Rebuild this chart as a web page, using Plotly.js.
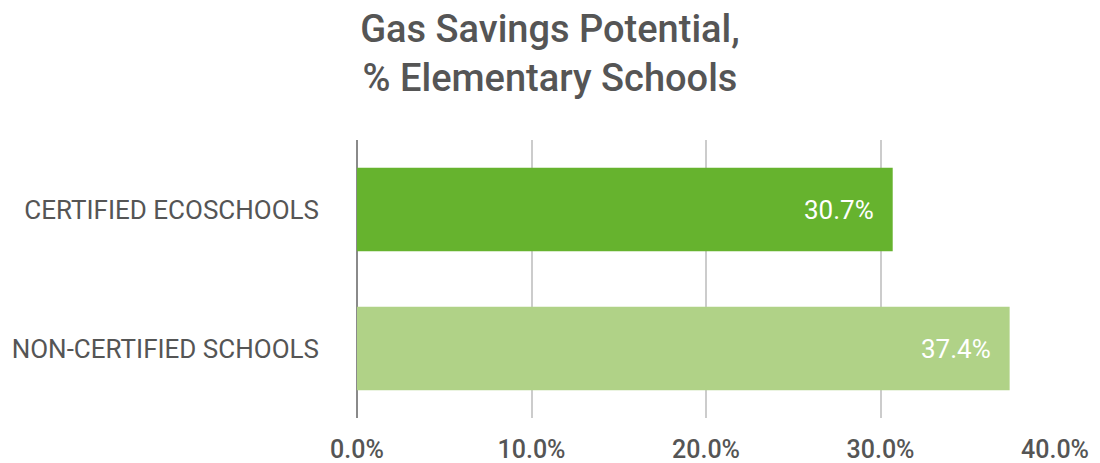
<!DOCTYPE html>
<html>
<head>
<meta charset="utf-8">
<script src="https://cdn.plot.ly/plotly-3.0.1.min.js"></script>
<style>html,body{margin:0;padding:0;background:#fff;}#chart{width:1100px;height:463px;}</style>
</head>
<body>
<div id="chart"></div>
<script>
const categories = ["CERTIFIED ECOSCHOOLS", "NON-CERTIFIED SCHOOLS"];
const values = [30.7, 37.4];
const barColors = ["#66b32e", "#b0d287"];
const tickValues = [0, 10, 20, 30, 40];
const tickLabels = ["0.0%", "10.0%", "20.0%", "30.0%", "40.0%"];
const titleText = "Gas Savings Potential,<br>% Elementary Schools";

const trace = {
  type: "bar",
  orientation: "h",
  y: categories,
  x: values,
  marker: { color: barColors },
  hoverinfo: "none"
};

const annotations = values.map((v, i) => ({
  x: v, y: categories[i], xref: "x", yref: "y",
  text: v.toFixed(1) + "%",
  showarrow: false, xanchor: "right", yanchor: "middle",
  xshift: -17,
  font: { family: "Roboto", size: 26, color: "#ffffff" }
}));

const layout = {
  width: 1100, height: 463,
  margin: { l: 357, r: 45, t: 140, b: 45, pad: 0 },
  paper_bgcolor: "#ffffff", plot_bgcolor: "#ffffff",
  showlegend: false,
  bargap: 0.4,
  title: {
    text: titleText,
    x: 0.5, xanchor: "center", xref: "container",
    y: 1 - 42 / 463, yanchor: "middle", yref: "container",
    font: { family: "Roboto", size: 38, color: "#555555", weight: 500 }
  },
  xaxis: {
    range: [0, 40],
    tickvals: tickValues, ticktext: tickLabels,
    showgrid: true, gridcolor: "#cccccc", gridwidth: 2,
    zeroline: true, zerolinecolor: "#8a8a8a", zerolinewidth: 2.5,
    showline: false, ticks: "",
    ticklabelstandoff: 14,
    tickfont: { family: "Roboto", size: 25, color: "#555555", weight: 500 },
    fixedrange: true
  },
  yaxis: {
    type: "category",
    autorange: "reversed",
    showgrid: false, zeroline: false, showline: false, ticks: "",
    ticklabelstandoff: 37,
    tickfont: { family: "Roboto", size: 26, color: "#555555" },
    fixedrange: true
  },
  annotations: annotations
};

Plotly.newPlot("chart", [trace], layout, { displayModeBar: false, staticPlot: true });
</script>
</body>
</html>
